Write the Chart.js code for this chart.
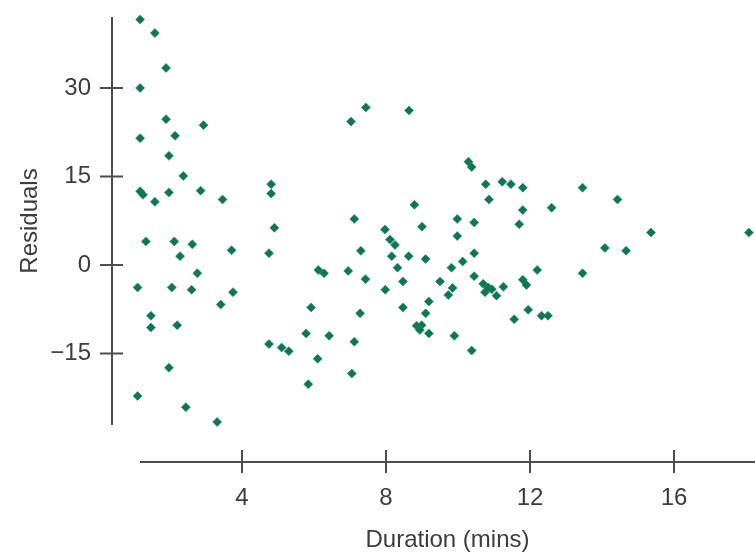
<!DOCTYPE html>
<html>
<head>
<meta charset="utf-8">
<script src="https://cdn.jsdelivr.net/npm/chart.js@4/dist/chart.umd.min.js"></script>
<style>
  html, body { margin: 0; padding: 0; background: #ffffff; }
  #wrap { width: 755px; height: 555px; }
</style>
</head>
<body>
<div id="wrap"><canvas id="chart" width="755" height="555"></canvas></div>
<script>
// Duration (minutes) and residuals of each observation
const durations = [
  1.17, 1.58, 1.89, 1.17, 1.89, 2.93, 1.17, 2.14, 1.97, 2.37,
  1.17, 1.25, 1.97, 1.58, 2.85, 3.46, 4.81, 4.81, 4.90, 1.33,
  2.12, 2.62, 2.28, 3.71, 4.75, 2.76, 1.10, 2.05, 2.60, 3.75,
  3.41, 1.47, 1.47, 2.20, 4.75, 5.10, 5.30, 1.97, 1.10, 2.44,
  3.31,
  7.44, 7.03, 8.64, 8.79, 7.12, 7.97, 9.00, 8.11, 8.25, 7.30,
  8.16, 8.63, 9.10, 6.12, 6.28, 6.95, 8.32, 7.43, 8.47, 9.50,
  7.98, 9.73, 5.92, 7.28, 8.47, 9.19, 9.10, 8.85, 8.99, 8.94,
  9.19, 5.78, 6.42, 7.12, 6.10, 7.05, 5.84,
  10.29, 10.38, 10.77, 11.23, 11.47, 11.80, 10.86, 11.80, 12.60, 13.46,
  14.43, 11.70, 9.98, 10.45, 9.98, 10.45, 10.13, 9.82, 10.45, 9.85,
  10.70, 10.84, 10.94, 10.75, 11.07, 11.26, 11.80, 11.90, 12.20, 11.95,
  11.56, 12.32, 12.50, 9.90, 10.38, 13.46, 14.08, 14.67, 15.36, 18.08
];
const residuals = [
  41.6, 39.3, 33.4, 30.0, 24.7, 23.7, 21.5, 21.9, 18.5, 15.1,
  12.5, 11.9, 12.3, 10.7, 12.6, 11.1, 13.7, 12.1, 6.3, 4.0,
  4.0, 3.5, 1.5, 2.5, 2.0, -1.4, -3.8, -3.8, -4.2, -4.6,
  -6.7, -8.6, -10.6, -10.2, -13.4, -14.0, -14.6, -17.4, -22.2, -24.1,
  -26.6,
  26.7, 24.3, 26.2, 10.2, 7.8, 6.0, 6.5, 4.3, 3.4, 2.4,
  1.5, 1.5, 1.0, -0.85, -1.4, -1.0, -0.45, -2.4, -2.8, -2.8,
  -4.2, -5.1, -7.2, -8.2, -7.2, -6.2, -8.2, -10.3, -10.2, -11.0,
  -11.6, -11.6, -12.0, -13.0, -15.9, -18.4, -20.2,
  17.5, 16.6, 13.7, 14.1, 13.7, 13.1, 11.1, 9.3, 9.7, 13.1,
  11.1, 6.9, 7.8, 7.2, 4.9, 2.0, 0.6, -0.45, -1.9, -3.9,
  -3.2, -3.8, -4.1, -4.6, -5.2, -3.7, -2.5, -3.4, -0.85, -7.6,
  -9.2, -8.6, -8.6, -12.0, -14.5, -1.4, 2.9, 2.4, 5.5, 5.5
];
const xTickValues = [4, 8, 12, 16];
const yTickValues = [-15, 0, 15, 30];

const inkColor = '#3d3d3d';
const pointColor = '#127552';
const labelFont = { family: "'Liberation Sans', Arial, sans-serif", size: 24 };

// Free-standing axis lines with ticks that cross them
const detachedAxes = {
  id: 'detachedAxes',
  beforeDatasetsDraw(chart) {
    const { ctx, chartArea, scales } = chart;
    const xs = scales.x, ys = scales.y;
    const axisX = chartArea.left - 28;
    const axisY = chartArea.bottom + 37;
    ctx.save();
    ctx.strokeStyle = '#4d4d4d';
    ctx.lineWidth = 2;
    ctx.beginPath();
    ctx.moveTo(axisX, chartArea.top);
    ctx.lineTo(axisX, chartArea.bottom);
    yTickValues.forEach(v => {
      const py = ys.getPixelForValue(v);
      ctx.moveTo(axisX - 12, py);
      ctx.lineTo(axisX + 11, py);
    });
    ctx.moveTo(chartArea.left, axisY);
    ctx.lineTo(chartArea.right, axisY);
    xTickValues.forEach(v => {
      const px = xs.getPixelForValue(v);
      ctx.moveTo(px, axisY - 12);
      ctx.lineTo(px, axisY + 11);
    });
    ctx.stroke();
    ctx.restore();
  }
};

const fmt = v => (v < 0 ? '\u2212' + Math.abs(v) : String(v));

// keep the plot area fixed: no extra room reserved for label overhang
const resetPadding = s => {
  s.paddingTop = 0; s.paddingBottom = 0; s.paddingLeft = 0; s.paddingRight = 0;
};

new Chart(document.getElementById('chart'), {
  type: 'scatter',
  data: {
    datasets: [{
      data: durations.map((d, i) => ({ x: d, y: residuals[i] })),
      pointStyle: 'rectRot',
      pointRadius: 4.5,
      pointBorderWidth: 1,
      backgroundColor: pointColor,
      borderColor: 'rgba(20,140,100,0.6)',
      clip: false
    }]
  },
  options: {
    responsive: false,
    animation: false,
    layout: { autoPadding: false, padding: { top: 17, right: 0, bottom: 0, left: 0 } },
    plugins: { legend: { display: false }, tooltip: { enabled: false } },
    scales: {
      x: {
        type: 'linear',
        min: 1.1667,
        max: 18.25,
        afterBuildTicks: s => { s.ticks = xTickValues.map(value => ({ value })); },
        afterFit: s => { s.height = 130; resetPadding(s); },
        grid: { display: false, drawTicks: false },
        border: { display: false },
        ticks: { color: inkColor, font: labelFont, padding: 59, maxRotation: 0, autoSkip: false, callback: fmt },
        title: { display: true, text: 'Duration (mins)', color: inkColor, font: labelFont, padding: { top: 0, bottom: 0 } }
      },
      y: {
        type: 'linear',
        min: -27.12,
        max: 42.03,
        afterBuildTicks: s => { s.ticks = yTickValues.map(value => ({ value })); },
        afterFit: s => { s.width = 140; resetPadding(s); },
        grid: { display: false, drawTicks: false },
        border: { display: false },
        ticks: { color: inkColor, font: labelFont, padding: 49, autoSkip: false, callback: fmt },
        title: { display: true, text: 'Residuals', color: inkColor, font: labelFont, padding: { top: 16, bottom: 0 } }
      }
    }
  },
  plugins: [detachedAxes]
});
</script>
</body>
</html>
